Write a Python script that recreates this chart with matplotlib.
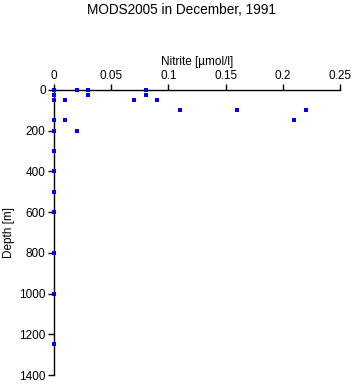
import numpy as np
import matplotlib
matplotlib.use('Agg')
import matplotlib.pyplot as plt

plt.rcParams['font.family'] = ['Liberation Sans', 'DejaVu Sans']

# nitrite values and depths
nitrite = [0, 0, 0, 0, 0, 0, 0, 0, 0, 0, 0, 0,
           0.02, 0.03, 0.03, 0.08, 0.08,
           0.01, 0.07, 0.09,
           0.11, 0.16, 0.22,
           0.01, 0.21,
           0.02]
depth = [0, 25, 50, 150, 200, 300, 400, 500, 600, 800, 1000, 1250,
         0, 0, 25, 0, 25,
         50, 50, 50,
         100, 100, 100,
         150, 150,
         200]

xticks = [0, 0.05, 0.1, 0.15, 0.2, 0.25]
xticklabels = ['0', '0.05', '0.1', '0.15', '0.2', '0.25']
yticks = [0, 200, 400, 600, 800, 1000, 1200, 1400]

fig = plt.figure(figsize=(3.53, 3.84), dpi=100)
ax = fig.add_axes([0.153, 0.0234, 0.81, 0.7426])

ax.plot(nitrite, depth, 's', color='blue', markersize=2.4, markeredgewidth=0,
        clip_on=False, zorder=5)

ax.set_xlim(0, 0.25)
ax.set_ylim(1400, 0)
ax.xaxis.tick_top()
ax.xaxis.set_label_position('top')
ax.set_xticks(xticks)
ax.set_xticklabels(xticklabels)
ax.set_yticks(yticks)
ax.tick_params(labelsize=8.5, length=4, width=1, pad=2)

ax.spines['right'].set_visible(False)
ax.spines['bottom'].set_visible(False)
ax.spines['top'].set_linewidth(1)
ax.spines['left'].set_linewidth(1)

ax.set_xlabel('Nitrite [µmol/l]', fontsize=8.5, labelpad=3)
ax.set_ylabel('Depth [m]', fontsize=8.5, labelpad=3)

fig.text(0.515, 0.973, 'MODS2005 in December, 1991', ha='center', va='center', fontsize=9.8)

fig.savefig('out.png', dpi=100)
